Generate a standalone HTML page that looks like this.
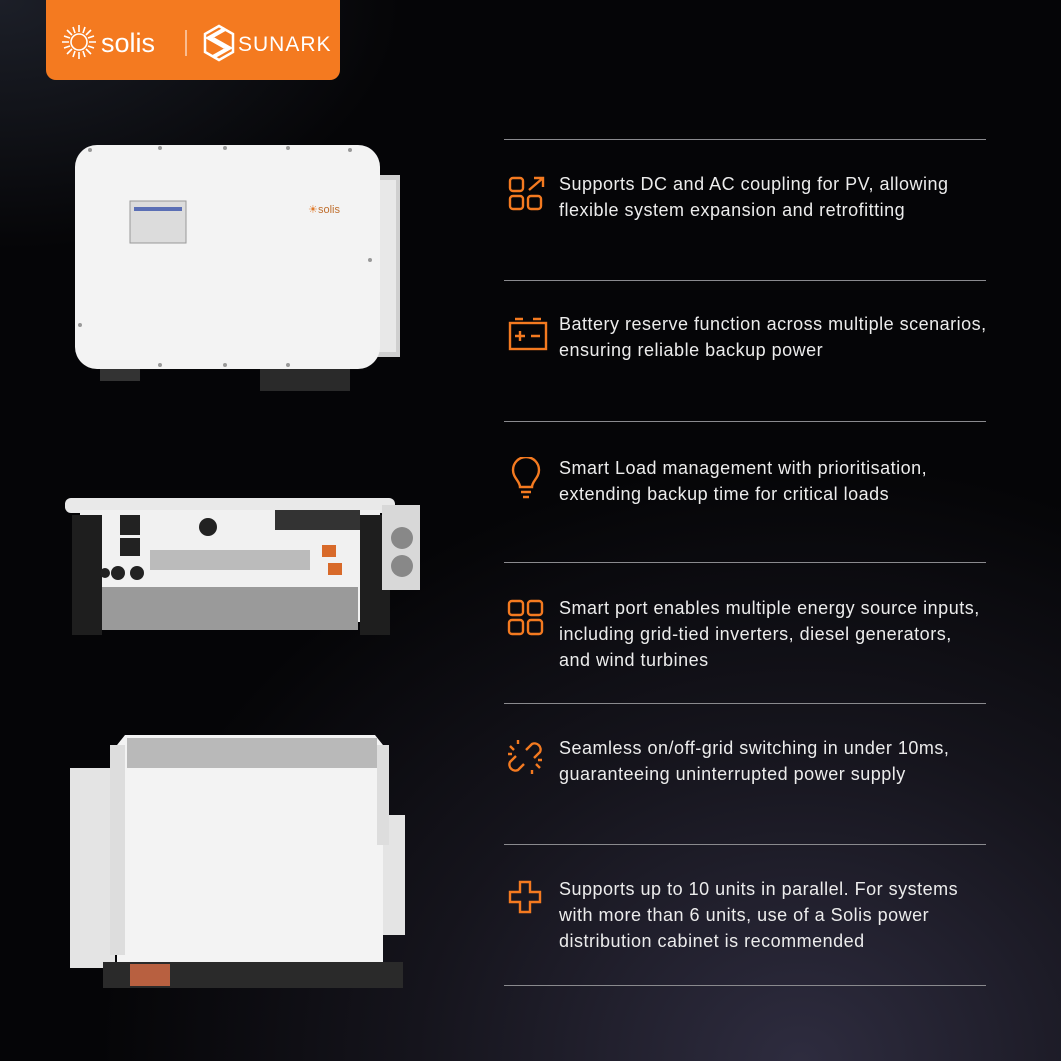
<!DOCTYPE html>
<html><head><meta charset="utf-8"><style>
html,body{margin:0;padding:0}
body{width:1061px;height:1061px;overflow:hidden;position:relative;font-family:"Liberation Sans",sans-serif;
background:radial-gradient(ellipse 700px 600px at 800px 1061px,#2e2c3f 0%,#15141c 55%,#050507 100%),#050507;}
.bgtl{position:absolute;left:0;top:0;width:500px;height:300px;background:radial-gradient(ellipse 400px 250px at 0 0,#1c1f28,rgba(0,0,0,0));}
.logo{position:absolute;left:46px;top:0;width:294px;height:80px;background:#f47a20;border-radius:0 0 10px 10px}
.hr{position:absolute;left:504px;width:482px;height:1px;background:#8a8a8e}
.t{position:absolute;left:559px;color:#ececec;font-size:18px;line-height:26px;letter-spacing:0.5px;white-space:nowrap}
.ic{position:absolute;left:506px}
</style></head><body>
<div class="bgtl"></div>
<div class="logo">
<svg width="294" height="80" viewBox="0 0 294 80">
<g transform="translate(33,42)" stroke="#fff" stroke-width="1.6" fill="none">
<circle r="8"/>
<path d="M0,-10L0,-17M7,-7L12,-12M10,0L17,0M7,7L12,12M0,10L0,17M-7,7L-12,12M-10,0L-17,0M-7,-7L-12,-12M4,-9L6,-15M9,-4L15,-6M9,4L15,6M4,9L6,15M-4,9L-6,15M-9,4L-15,6M-9,-4L-15,-6M-4,-9L-6,-15"/>
</g>
<text x="55" y="52" fill="#fff" font-size="27" font-family="Liberation Sans">solis</text>
<line x1="140" y1="30" x2="140" y2="56" stroke="#fff" stroke-width="1"/>
<g transform="translate(173,43)" fill="none" stroke="#fff" stroke-width="4">
<path d="M6,-14 L-10,-5 L6,4 M-6,-4 L10,5 L-6,14"/>
<path d="M0,-17 L14,-9 L14,9 L0,17 L-14,9 L-14,-9Z" stroke-width="2.5"/>
</g>
<text x="192" y="51" fill="#fff" font-size="21" letter-spacing="1">SUNARK</text>
</svg></div>

<svg style="position:absolute;left:60px;top:135px" width="350" height="260">
<rect x="312" y="40" width="28" height="182" fill="#cfcfcf"/>
<rect x="318" y="45" width="18" height="172" fill="#e8e8e8"/>
<rect x="15" y="10" width="305" height="224" rx="22" fill="#f3f3f3"/>
<rect x="70" y="66" width="56" height="42" fill="#dcdcdc" stroke="#999"/>
<rect x="74" y="72" width="48" height="4" fill="#5b6fb5"/>
<text x="248" y="78" font-size="11" fill="#e07a2a">☀</text><text x="258" y="78" font-size="11" fill="#c07030">solis</text>
<g fill="#999"><circle cx="30" cy="15" r="2"/><circle cx="100" cy="13" r="2"/><circle cx="165" cy="13" r="2"/><circle cx="228" cy="13" r="2"/><circle cx="290" cy="15" r="2"/><circle cx="20" cy="190" r="2"/><circle cx="100" cy="230" r="2"/><circle cx="165" cy="230" r="2"/><circle cx="228" cy="230" r="2"/><circle cx="310" cy="125" r="2"/></g>
<rect x="40" y="234" width="40" height="12" fill="#333"/><rect x="200" y="234" width="90" height="22" fill="#2a2a2a"/>
</svg>

<svg style="position:absolute;left:60px;top:490px" width="370" height="150">
<rect x="5" y="8" width="330" height="15" rx="6" fill="#e9e9e9"/>
<rect x="20" y="20" width="300" height="112" fill="#f1f1f1"/>
<rect x="12" y="25" width="30" height="120" fill="#1e1e1e"/><rect x="300" y="25" width="30" height="120" fill="#1e1e1e"/>
<rect x="322" y="15" width="38" height="85" fill="#d8d8d8"/>
<circle cx="342" cy="48" r="11" fill="#888"/><circle cx="342" cy="76" r="11" fill="#888"/>
<rect x="60" y="25" width="20" height="20" fill="#222"/><rect x="60" y="48" width="20" height="18" fill="#222"/>
<circle cx="148" cy="37" r="9" fill="#222"/>
<rect x="215" y="20" width="85" height="20" fill="#333"/>
<rect x="262" y="55" width="14" height="12" fill="#d86a2a"/><rect x="268" y="73" width="14" height="12" fill="#d86a2a"/>
<rect x="90" y="60" width="160" height="20" fill="#bbb"/>
<rect x="42" y="97" width="256" height="43" fill="#9a9a9a"/>
<circle cx="45" cy="83" r="5" fill="#222"/><circle cx="58" cy="83" r="7" fill="#222"/><circle cx="77" cy="83" r="7" fill="#222"/>
</svg>

<svg style="position:absolute;left:65px;top:730px" width="350" height="265">
<rect x="5" y="38" width="45" height="200" fill="#e4e4e4"/>
<rect x="310" y="85" width="30" height="120" fill="#e4e4e4"/>
<path d="M60,5 H310 L318,15 V235 H52 V15Z" fill="#f3f3f3"/>
<rect x="62" y="8" width="250" height="30" fill="#b9b9b9"/>
<rect x="45" y="15" width="15" height="210" fill="#ddd"/><rect x="312" y="15" width="12" height="100" fill="#ddd"/>
<rect x="38" y="232" width="300" height="26" fill="#2a2a2a"/>
<rect x="65" y="234" width="40" height="22" fill="#b86040"/>
</svg>

<div class="hr" style="top:139px"></div>
<div class="hr" style="top:280px"></div>
<div class="hr" style="top:421px"></div>
<div class="hr" style="top:562px"></div>
<div class="hr" style="top:703px"></div>
<div class="hr" style="top:844px"></div>
<div class="hr" style="top:985px"></div>

<svg class="ic" style="top:175px" width="42" height="40" fill="none" stroke="#f47a20" stroke-width="2.4">
<rect x="4" y="3" width="13" height="13" rx="3"/><rect x="4" y="21" width="13" height="13" rx="3"/><rect x="22" y="21" width="13" height="13" rx="3"/><path d="M23,15 L37,3 M28,3 H37 V12"/></svg>
<div class="t" style="top:171px">Supports DC and AC coupling for PV, allowing<br>flexible system expansion and retrofitting</div>

<svg class="ic" style="top:315px" width="42" height="40" fill="none" stroke="#f47a20" stroke-width="2.4">
<rect x="4" y="8" width="36" height="26"/><path d="M9,4H17M27,4H35M9,21H19M14,16V26M25,21H34"/></svg>
<div class="t" style="top:311px">Battery reserve function across multiple scenarios,<br>ensuring reliable backup power</div>

<svg class="ic" style="top:457px" width="42" height="44" fill="none" stroke="#f47a20" stroke-width="2.4">
<path d="M14,30 C14,24 7,21 7,13 A13,13 0 0 1 33,13 C33,21 26,24 26,30Z M15,35H25M17,40H23"/></svg>
<div class="t" style="top:455px">Smart Load management with prioritisation,<br>extending backup time for critical loads</div>

<svg class="ic" style="top:598px" width="42" height="42" fill="none" stroke="#f47a20" stroke-width="2.4">
<rect x="3" y="3" width="14" height="14" rx="3"/><rect x="22" y="3" width="14" height="14" rx="3"/><rect x="3" y="22" width="14" height="14" rx="3"/><rect x="22" y="22" width="14" height="14" rx="3"/></svg>
<div class="t" style="top:595px">Smart port enables multiple energy source inputs,<br>including grid-tied inverters, diesel generators,<br>and wind turbines</div>

<svg class="ic" style="top:738px" width="42" height="42" fill="none" stroke="#f47a20" stroke-width="2.4">
<path d="M20,12 L26,6 A6,6 0 0 1 34,14 L28,20 M18,26 L12,32 A6,6 0 0 1 4,24 L10,18 M4,8L8,12M2,16H6M12,2V6M34,30L30,26M36,22H32M26,36V32"/></svg>
<div class="t" style="top:735px">Seamless on/off-grid switching in under 10ms,<br>guaranteeing uninterrupted power supply</div>

<svg class="ic" style="top:878px" width="42" height="42" fill="none" stroke="#f47a20" stroke-width="2.4">
<path d="M14,4H24V14H34V24H24V34H14V24H4V14H14Z"/></svg>
<div class="t" style="top:876px">Supports up to 10 units in parallel. For systems<br>with more than 6 units, use of a Solis power<br>distribution cabinet is recommended</div>
</body></html>
